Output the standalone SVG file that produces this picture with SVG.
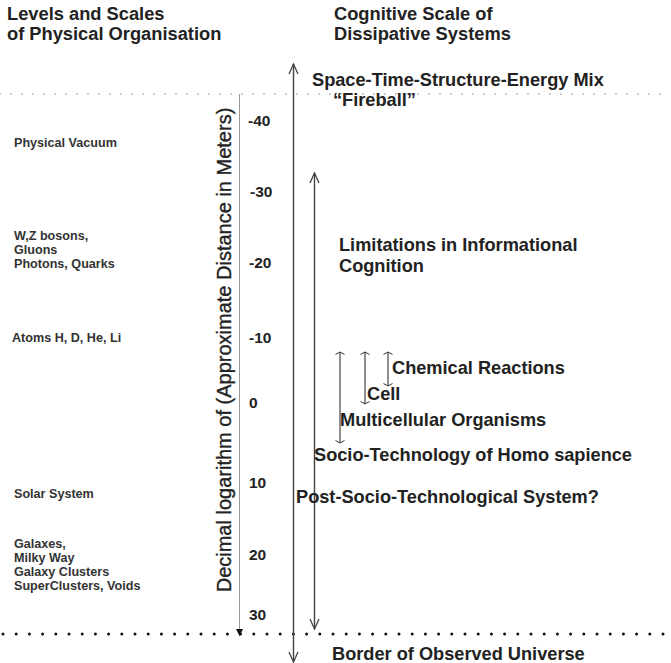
<svg xmlns="http://www.w3.org/2000/svg" width="671" height="663" viewBox="0 0 671 663">
<style>
text { font-family: "Liberation Sans", Arial, sans-serif; fill: #222; }
.h { font-size: 18.3px; font-weight: bold; }
.m { font-size: 18.2px; font-weight: bold; }
.l { font-size: 12.6px; font-weight: bold; fill: #333; }
.t { font-size: 15.5px; font-weight: bold; }
.ax { font-size: 20px; stroke: #222; stroke-width: 0.35; }
.arr { stroke: #444; stroke-width: 1.4; fill: none; }
.bar { stroke: #333; stroke-width: 1.1; fill: none; }
</style>
<defs>
<marker id="open" viewBox="-11 -6 12 12" refX="0" refY="0" markerWidth="12" markerHeight="12" markerUnits="userSpaceOnUse" orient="auto-start-reverse">
<path d="M-10,-4.5 L0,0 L-10,4.5" fill="none" stroke="#444" stroke-width="1.3"/>
</marker>
<marker id="cap" viewBox="-4 -6 5 12" refX="0" refY="0" markerWidth="5" markerHeight="12" markerUnits="userSpaceOnUse" orient="auto-start-reverse">
<path d="M-2.5,-4.5 L0,0 L-2.5,4.5" fill="none" stroke="#333" stroke-width="1"/>
</marker>
<marker id="tri" viewBox="-8 -4 9 8" refX="0" refY="0" markerWidth="9" markerHeight="8" markerUnits="userSpaceOnUse" orient="auto">
<path d="M-7,-3.5 L0,0 L-7,3.5 Z" fill="#111"/>
</marker>
</defs>
<rect width="671" height="663" fill="#fff"/>

<g id="headings">
<text class="h" x="7" y="20">Levels and Scales</text>
<text class="h" x="7" y="40">of Physical Organisation</text>
<text class="h" x="334" y="20">Cognitive Scale of</text>
<text class="h" x="334" y="40">Dissipative Systems</text>
</g>

<g id="connectors">
<line x1="0" y1="94" x2="671" y2="94" stroke="#888" stroke-width="1.6" stroke-dasharray="0 11" stroke-linecap="round"/>
<line x1="3" y1="634" x2="671" y2="634" stroke="#111" stroke-width="3" stroke-dasharray="0 13.2" stroke-linecap="round"/>
<line x1="239.5" y1="94" x2="239.5" y2="636" stroke="#999" stroke-width="1" marker-end="url(#tri)"/>
<line class="arr" x1="293.5" y1="64" x2="293.5" y2="662" marker-start="url(#open)" marker-end="url(#open)"/>
<line class="arr" x1="314.5" y1="173" x2="314.5" y2="629" marker-start="url(#open)" marker-end="url(#open)"/>
<line class="bar" x1="340" y1="352" x2="340" y2="443" marker-start="url(#cap)" marker-end="url(#cap)"/>
<line class="bar" x1="365" y1="352" x2="365" y2="404" marker-start="url(#cap)" marker-end="url(#cap)"/>
<line class="bar" x1="388" y1="352" x2="388" y2="386" marker-start="url(#cap)" marker-end="url(#cap)"/>
</g>

<g id="axis-label">
<text class="ax" text-anchor="middle" transform="translate(231,350) rotate(-90)">Decimal logarithm of (Approximate Distance in Meters)</text>
</g>

<g id="ticks">
<text class="t" x="248" y="126">-40</text>
<text class="t" x="250" y="197">-30</text>
<text class="t" x="249" y="268">-20</text>
<text class="t" x="249" y="343">-10</text>
<text class="t" x="249" y="408">0</text>
<text class="t" x="249" y="488">10</text>
<text class="t" x="249" y="560">20</text>
<text class="t" x="249" y="620">30</text>
</g>

<g id="physical-vacuum"><text class="l" x="14" y="147">Physical Vacuum</text></g>
<g id="bosons">
<text class="l" x="14" y="240">W,Z bosons,</text>
<text class="l" x="14" y="254">Gluons</text>
<text class="l" x="14" y="268">Photons, Quarks</text>
</g>
<g id="atoms"><text class="l" x="12" y="342">Atoms H, D, He, Li</text></g>
<g id="solar"><text class="l" x="14" y="498">Solar System</text></g>
<g id="galaxies">
<text class="l" x="14" y="548">Galaxes,</text>
<text class="l" x="14" y="562">Milky Way</text>
<text class="l" x="14" y="576">Galaxy Clusters</text>
<text class="l" x="14" y="590">SuperClusters, Voids</text>
</g>

<g id="fireball">
<text class="m" x="312" y="86">Space-Time-Structure-Energy Mix</text>
<text class="m" x="333" y="106">“Fireball”</text>
</g>
<g id="limitations">
<text class="m" x="339" y="251">Limitations in Informational</text>
<text class="m" x="339" y="272">Cognition</text>
</g>
<g id="chemical"><text class="m" x="392" y="374">Chemical Reactions</text></g>
<g id="cell"><text class="m" x="367" y="400">Cell</text></g>
<g id="multicellular"><text class="m" x="340" y="426">Multicellular Organisms</text></g>
<g id="socio"><text class="m" x="314" y="461">Socio-Technology of Homo sapience</text></g>
<g id="post"><text class="m" x="296" y="503">Post-Socio-Technological System?</text></g>
<g id="border"><text class="m" x="332" y="660">Border of Observed Universe</text></g>
</svg>
